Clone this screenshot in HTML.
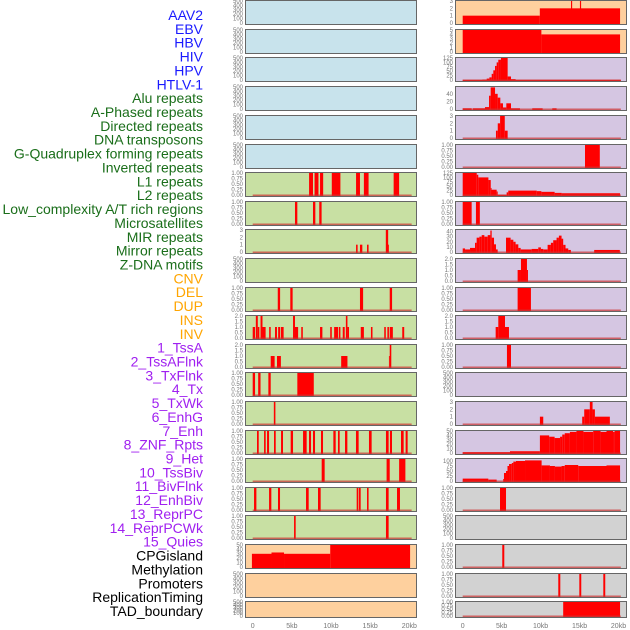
<!DOCTYPE html>
<html><head><meta charset="utf-8">
<style>
html,body{margin:0;padding:0;background:#fff;width:630px;height:630px;overflow:hidden}
svg{display:block;font-family:"Liberation Sans",sans-serif}
</style></head>
<body>
<svg id="chart" width="630" height="630" viewBox="0 0 630 630"></svg>
<script>
// ---- data ----
const labelNames = ["AAV2","EBV","HBV","HIV","HPV","HTLV-1","Alu repeats","A-Phased repeats","Directed repeats","DNA transposons","G-Quadruplex forming repeats","Inverted repeats","L1 repeats","L2 repeats","Low_complexity A/T rich regions","Microsatellites","MIR repeats","Mirror repeats","Z-DNA motifs","CNV","DEL","DUP","INS","INV","1_TssA","2_TssAFlnk","3_TxFlnk","4_Tx","5_TxWk","6_EnhG","7_Enh","8_ZNF_Rpts","9_Het","10_TssBiv","11_BivFlnk","12_EnhBiv","13_ReprPC","14_ReprPCWk","15_Quies","CPGisland","Methylation","Promoters","ReplicationTiming","TAD_boundary"];
const labelColors = ["#1a1aff","#1a1aff","#1a1aff","#1a1aff","#1a1aff","#1a1aff","#1a6e1a","#1a6e1a","#1a6e1a","#1a6e1a","#1a6e1a","#1a6e1a","#1a6e1a","#1a6e1a","#1a6e1a","#1a6e1a","#1a6e1a","#1a6e1a","#1a6e1a","#ffa500","#ffa500","#ffa500","#ffa500","#ffa500","#a020f0","#a020f0","#a020f0","#a020f0","#a020f0","#a020f0","#a020f0","#a020f0","#a020f0","#a020f0","#a020f0","#a020f0","#a020f0","#a020f0","#a020f0","#000","#000","#000","#000","#000"];
const xTicks = [0,5,10,15,20];
const xTickLabels = ["0","5kb","10kb","15kb","20kb"];
const ticksK500 = [0,100,200,300,400,500];
const ticksP1 = [0,0.25,0.5,0.75,1];
const ticksInt3 = [0,1,2,3];
const ticksInt5 = [0,1,2,3,4,5];
const ticksHalf2 = [0,0.5,1,1.5,2];
const ticks125 = [0,25,50,75,100,125];
const ticks40 = [0,20,40];
const ticks40b = [0,10,20,30,40];
const ticks50 = [0,10,20,30,40,50];
const ticks100 = [0,25,50,75,100];
// segments: [startKb, endKb, value]
const L7 = [[7.2,7.7,1],[7.9,8.4,1],[8.6,9.0,1],[10.1,11.2,1],[13.2,13.7,1],[14.2,14.8,1],[18.0,18.7,1]];
const L8 = [[5.4,5.7,1],[7.7,8.0,1],[8.5,8.8,1]];
const L9 = [[13.2,13.4,1],[13.7,14.0,1],[14.6,14.8,1],[17.0,17.3,3],[17.3,17.4,1]];
const L11 = [[3.2,3.5,1],[4.8,5.1,1],[13.7,14.1,1],[17.5,17.8,1]];
const L12 = [[0,0.3,1],[0.4,0.65,2],[0.65,0.85,1],[1.0,1.25,2],[1.25,1.65,1],[2.1,2.3,1],[2.85,3.1,1],[3.25,3.5,1],[3.6,3.95,1],[5.15,5.4,2],[5.4,5.8,1],[6.2,6.4,1],[8.6,8.9,1],[9.9,10.1,1],[10.4,10.9,1],[11.0,11.2,1],[11.5,11.75,1],[11.9,12.1,2],[12.1,12.3,1],[13.8,14.2,1],[15.1,15.3,1],[16.8,17.0,1],[17.2,17.4,1],[17.5,17.9,1],[19.1,19.35,1]];
const L13 = [[2.3,2.8,1],[3.1,3.6,1],[11.3,12.1,1],[17.4,17.5,1],[17.5,17.7,2]];
const L14 = [[0,0.3,1],[0.7,1.0,1],[2.0,2.3,1],[5.7,7.8,1]];
const L15 = [[2.7,2.9,1]];
const L16 = [[0.55,0.77,1],[1.45,1.66,1],[1.83,2.09,1],[2.72,2.94,1],[3.62,3.87,1],[4.85,5.15,1],[6.43,6.89,1],[7.19,7.45,1],[7.70,7.96,1],[8.72,8.98,1],[10.30,10.60,1],[10.89,11.11,1],[11.79,12.09,1],[13.19,13.53,1],[14.85,15.19,1],[17.02,17.36,1],[17.53,17.79,1],[18.94,19.28,1],[19.53,19.79,1]];
const L17 = [[8.81,9.19,1],[17.1,17.5,1],[18.7,19.5,1]];
const L18 = [[0.17,0.47,1],[2.09,2.38,1],[3.23,3.49,1],[6.81,7.15,1],[8.34,8.68,1],[13.28,13.45,1],[13.53,13.79,1],[14.6,14.8,1],[17.02,17.36,1],[18.43,18.81,1]];
const L19 = [[5.28,5.49,1],[17.02,17.36,1]];
const L20 = [[-0.1,2.4,30],[2.4,4.0,33],[4.0,9.9,30],[9.9,20.1,50]];
const R1 = [[0,9.9,1],[9.9,20.2,2],[13.9,14.05,3],[15.05,15.2,3]];
const R2 = [[0,10.1,5],[10.1,20.2,4]];
const R3 = [[0,20.3,1],[2.52,3.08,3],[3.08,3.42,8],[3.42,3.72,15],[3.72,3.93,35],[3.93,4.15,55],[4.15,4.36,80],[4.36,4.57,100],[4.57,4.91,115],[4.91,5.77,125],[5.77,6.2,20],[6.2,6.79,5]];
const R4 = [[0,1.15,2],[1.3,2.86,2],[2.86,3.38,5],[3.38,3.59,35],[3.59,4.15,57],[4.15,4.49,40],[4.49,4.83,30],[4.83,5.17,15],[5.17,5.6,4],[5.6,6.2,15],[6.2,7.35,2],[8.93,10.26,2],[11.5,12.05,2]];
const R5 = [[4.27,4.5,1],[4.5,4.8,2],[4.8,5.4,3],[5.4,5.77,1]];
const R6 = [[15.7,17.6,1]];
const R7 = [[0,1.8,125],[1.8,2.0,115],[2.0,3.3,100],[3.3,3.6,85],[3.6,3.7,40],[3.7,4.36,30],[4.36,4.49,20],[4.49,5.64,2],[5.64,5.85,15],[5.85,9.5,25],[9.5,10.1,22],[10.1,11.8,18],[11.8,12.7,12],[12.7,20.2,10]];
const R8 = [[0,1.15,1],[1.7,2.2,1]];
const R9 = [[0,0.3,7],[0.3,0.94,5],[0.94,1.58,8],[1.58,1.79,18],[1.79,2.14,28],[2.14,2.44,30],[2.44,2.78,33],[2.78,3.21,30],[3.21,3.55,33],[3.55,3.72,42],[3.72,4.02,28],[4.02,4.27,15],[4.27,4.49,5],[5.56,6.15,28],[6.15,6.5,24],[6.5,6.79,20],[6.79,7.14,15],[7.14,7.44,8],[7.44,8.85,5],[8.85,9.7,6],[9.7,10.04,9],[10.04,10.34,6],[10.34,10.9,5],[10.9,11.32,14],[11.32,11.62,18],[11.62,12.05,23],[12.05,12.35,28],[12.35,12.69,32],[12.69,12.9,26],[12.9,13.2,14],[13.2,13.55,7],[13.55,13.89,4],[16.88,20.17,4]];
const R10 = [[7.05,7.48,1],[7.48,8.25,2],[8.25,8.38,1]];
const R11 = [[7.05,8.76,1]];
const R12 = [[4.23,4.57,1],[4.57,5.43,2],[5.43,5.94,1]];
const R13 = [[5.68,6.2,1]];
const R15 = [[9.91,10.34,1],[15.34,15.6,1],[15.6,16.32,2],[16.32,16.67,3],[16.67,16.97,2],[16.97,18.89,1]];
const R16 = [[0,6.07,2],[6.07,9.91,4],[9.91,11.1,40],[11.1,11.8,37],[11.8,12.5,34],[12.5,12.78,37],[12.78,13.1,42],[13.1,13.76,45],[13.76,14.6,48],[14.6,15.5,50],[15.5,16.75,48],[16.75,17.7,50],[17.7,18.46,48],[18.46,19.3,50],[19.3,19.5,48],[19.5,20.2,50]];
const R17 = [[0,3.29,12],[3.29,4.36,7],[5.2,5.3,10],[5.3,5.56,40],[5.56,5.75,50],[5.75,5.95,75],[5.95,6.3,85],[6.3,6.5,90],[6.5,6.84,97],[6.84,8.0,100],[8.0,10.13,103],[10.13,11.2,78],[11.2,11.84,75],[11.84,12.69,72],[12.69,13.1,75],[13.1,14.83,80],[14.83,18.46,75],[18.46,20.2,78]];
const R18 = [[4.79,5.56,1]];
const R20 = [[5.08,5.34,1]];
const R21 = [[12.27,12.53,1],[14.97,15.22,1],[18.05,18.3,1]];
const R22 = [[12.9,20.2,1]];

const BLUE="#c8e3ec", GREEN="#c8e0a3", ORANGE="#fed09e", LAV="#d5c6e2", GRAY="#d2d2d2";
const rowTops = [0,29,57,86,115,144,172,201,229,258,287,315,344,372,401,430,458,487,515,544,573,601];
const leftTracks = [
 {d:[],t:ticksK500,bg:BLUE},{d:[],t:ticksK500,bg:BLUE},{d:[],t:ticksK500,bg:BLUE},{d:[],t:ticksK500,bg:BLUE},{d:[],t:ticksK500,bg:BLUE},{d:[],t:ticksK500,bg:BLUE},
 {d:L7,t:ticksP1,bg:GREEN},{d:L8,t:ticksP1,bg:GREEN},{d:L9,t:ticksInt3,bg:GREEN},{d:[],t:ticksK500,bg:GREEN},{d:L11,t:ticksP1,bg:GREEN},{d:L12,t:ticksHalf2,bg:GREEN},{d:L13,t:ticksHalf2,bg:GREEN},{d:L14,t:ticksP1,bg:GREEN},{d:L15,t:ticksP1,bg:GREEN},{d:L16,t:ticksP1,bg:GREEN},{d:L17,t:ticksP1,bg:GREEN},{d:L18,t:ticksP1,bg:GREEN},{d:L19,t:ticksP1,bg:GREEN},
 {d:L20,t:ticks50,bg:ORANGE,nobase:true},{d:[],t:ticksK500,bg:ORANGE},{d:[],t:ticksK500,bg:ORANGE}
];
const rightTracks = [
 {d:R1,t:ticksInt3,bg:ORANGE,nobase:true},{d:R2,t:ticksInt5,bg:ORANGE,nobase:true},
 {d:R3,t:ticks125,bg:LAV},{d:R4,t:ticks40,bg:LAV,max:58},{d:R5,t:ticksInt3,bg:LAV},{d:R6,t:ticksP1,bg:LAV},{d:R7,t:ticks125,bg:LAV},{d:R8,t:ticksP1,bg:LAV},{d:R9,t:ticks40b,bg:LAV,max:43},{d:R10,t:ticksHalf2,bg:LAV},{d:R11,t:ticksP1,bg:LAV},{d:R12,t:ticksHalf2,bg:LAV},{d:R13,t:ticksP1,bg:LAV},{d:[],t:ticksK500,bg:LAV},{d:R15,t:ticksInt3,bg:LAV},{d:R16,t:ticks50,bg:LAV},{d:R17,t:ticks100,bg:LAV,max:110},
 {d:R18,t:ticksP1,bg:GRAY},{d:[],t:ticksK500,bg:GRAY},{d:R20,t:ticksP1,bg:GRAY},{d:R21,t:ticksP1,bg:GRAY},{d:R22,t:ticksP1,bg:GRAY}
];

// ---- drawing ----
const NS="http://www.w3.org/2000/svg";
const svg=document.getElementById('chart');
function mk(tag,attrs,parent){const e=document.createElementNS(NS,tag);for(const k in attrs)e.setAttribute(k,attrs[k]);(parent||svg).appendChild(e);return e;}

// labels
labelNames.forEach((n,i)=>{
  const t=mk('text',{x:203,y:20+i*13.86,'text-anchor':'end','font-size':14,fill:labelColors[i]});
  
  
  t.textContent=n;
});

const cols=[{px0:245,px1:417,x0:252.7,kbw:7.83,tr:leftTracks,name:'left'},{px0:455,px1:627,x0:462.7,kbw:7.79,tr:rightTracks,name:'right'}];
cols.forEach(c=>{
  const xs=kb=>c.x0+kb*c.kbw;
  c.tr.forEach((tr,i)=>{
    const top=rowTops[i], h=(i===rowTops.length-1)?17:25, bot=top+h;
    const g=mk('g',{});
    
    
    mk('rect',{x:c.px0,y:top,width:c.px1-c.px0,height:h,fill:tr.bg},g);
    const ymax=tr.max||tr.t[tr.t.length-1];
    const y0=bot-2, y1=top+1;
    const ys=v=>y0-(v/ymax)*(y0-y1);
    // ticks
    tr.t.forEach(v=>{
      const lab=mk('text',{x:c.px0-2,y:ys(v)+2,'text-anchor':'end','font-size':6,fill:'#777'},g);
      
      
      lab.textContent=(tr.t===ticksP1)?v.toFixed(2):(tr.t===ticksHalf2?v.toFixed(1):String(v));
    });
    // bars
    tr.d.forEach(s=>{
      const b=mk('rect',{x:xs(s[0]),y:ys(s[2]),width:Math.max(0.8,xs(s[1])-xs(s[0])),height:y0-ys(s[2])+1.5,fill:'#ff0000'},g);
      
      
    });
    if(!tr.nobase && tr.t!==ticksK500){
      const bl=mk('rect',{x:xs(0),y:y0-0.5,width:xs(20.3)-xs(0),height:1.5,fill:'#c33',opacity:0.7},g);
      
      
    }
    mk('rect',{x:c.px0+0.5,y:top+0.5,width:c.px1-c.px0-1,height:h-1,fill:'none',stroke:'#666','stroke-width':1},g);
  });
  xTicks.forEach((v,k)=>{
    const t=mk('text',{x:xs(v),y:628,'text-anchor':'middle','font-size':7,fill:'#777'});
    
    
    t.textContent=xTickLabels[k];
  });
});
</script>
</body></html>
